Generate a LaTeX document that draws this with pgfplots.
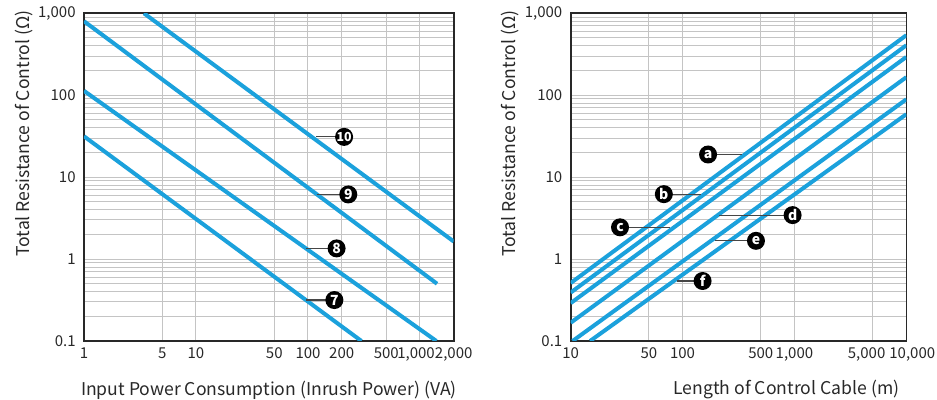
\documentclass[border=0pt]{standalone}
\usepackage{fontspec}
\setmainfont{Noto Sans CJK KR}
\usepackage{pgfplots}
\pgfplotsset{compat=1.18}
\definecolor{lineblue}{RGB}{27,161,220}
\definecolor{gridgray}{RGB}{196,196,196}
\definecolor{txt}{RGB}{40,40,40}
\definecolor{lead}{RGB}{70,70,70}
\tikzset{
  lab/.style={circle, fill=black, text=white, inner sep=0pt, minimum size=9pt, font=\bfseries\fontsize{7}{7}\selectfont},
  ldr/.style={lead, line width=0.6pt},
  bl/.style={lineblue, line width=2pt, no marks},
}
\pgfplotsset{
  every axis/.append style={
    scale only axis,
    height=163.85pt,
    grid=both,
    major grid style={gridgray, line width=0.5pt},
    minor grid style={gridgray, line width=0.5pt},
    major tick length=0pt, minor tick length=0pt,
    axis line style={txt, line width=0.8pt},
    /pgf/number format/assume math mode=true,
    tick label style={font=\fontsize{7.5}{9}\selectfont, text=txt, inner sep=0pt},
    xticklabel style={yshift=-3pt},
    yticklabel style={xshift=-4pt},
    label style={font=\fontsize{8.8}{10}\selectfont, text=txt},
  },
}
\begin{document}
\begin{tikzpicture}
\useasboundingbox (-42pt,-29.5pt) rectangle (426.5pt,170.5pt);
\begin{axis}[
  xmode=log, ymode=log,
  at={(0pt,0pt)}, anchor=south west,
  width=184.85pt,
  xmin=1, xmax=2000,
  ymin=0.1, ymax=1000,
  ytick={0.1,1,10,100,1000},
  yticklabels={0.1,1,10,100,{1,000}},
  xtick={1,5,10,50,100,200,500,1000,2000},
  xticklabels={1,5,10,50,100,200,500,{\makebox[0pt]{\hspace*{-4pt}1,000}},{2,000}},
  xlabel={Input Power Consumption (Inrush Power) (VA)},
  ylabel={Total Resistance of Control (Ω)},
  xlabel style={at={(axis description cs:0.5,-0.1495)}, anchor=center},
  ylabel style={at={(axis description cs:-0.1623,0.633)}, anchor=center},
]
\addplot[bl] coordinates {(3.43,1000) (2000,1.64)};
\addplot[bl] coordinates {(1,800) (1420,0.5)};
\addplot[bl] coordinates {(1,113) (1400,0.1)};
\addplot[bl] coordinates {(1,31.5) (300,0.1)};
\draw[ldr] (axis cs:118,31) -- (axis cs:210,31);
\node[lab, font=\bfseries\fontsize{6.2}{6.2}\selectfont] at (axis cs:210,31) {10};
\draw[ldr] (axis cs:120,6.15) -- (axis cs:229,6.15);
\node[lab] at (axis cs:229,6.15) {9};
\draw[ldr] (axis cs:96,1.35) -- (axis cs:180,1.35);
\node[lab] at (axis cs:180,1.35) {8};
\draw[ldr] (axis cs:96,0.316) -- (axis cs:172,0.316);
\node[lab] at (axis cs:172,0.316) {7};
\end{axis}
\begin{axis}[
  xmode=log, ymode=log,
  at={(243.35pt,0pt)}, anchor=south west,
  width=167.8pt,
  xmin=10, xmax=10000,
  ymin=0.1, ymax=1000,
  ytick={0.1,1,10,100,1000},
  yticklabels={0.1,1,10,100,{1,000}},
  xtick={10,50,100,500,1000,5000,10000},
  xticklabels={10,50,100,500,{1,000},{\makebox[0pt]{\hspace*{-6pt}5,000}},{\makebox[0pt]{\hspace*{6pt}10,000}}},
  xlabel={Length of Control Cable (m)},
  ylabel={Total Resistance of Control (Ω)},
  xlabel style={at={(axis description cs:1,-0.1495)}, anchor=east},
  ylabel style={at={(axis description cs:-0.181,0.633)}, anchor=center},
]
\addplot[bl] coordinates {(10,0.51) (10000,540)};
\addplot[bl] coordinates {(10,0.39) (10000,407)};
\addplot[bl] coordinates {(10,0.29) (10000,293)};
\addplot[bl] coordinates {(10,0.167) (10000,166)};
\addplot[bl] coordinates {(10.4,0.1) (10000,89)};
\addplot[bl] coordinates {(14.9,0.1) (10000,58.6)};
\draw[ldr] (axis cs:169,18.9) -- (axis cs:337,18.9);
\node[lab] at (axis cs:169,18.9) {a};
\draw[ldr] (axis cs:68,6.2) -- (axis cs:146,6.2);
\node[lab] at (axis cs:68,6.2) {b};
\draw[ldr] (axis cs:27.6,2.44) -- (axis cs:77,2.44);
\node[lab] at (axis cs:27.6,2.44) {c};
\draw[ldr] (axis cs:213,3.44) -- (axis cs:963,3.44);
\node[lab] at (axis cs:963,3.44) {d};
\draw[ldr] (axis cs:195,1.67) -- (axis cs:453,1.67);
\node[lab] at (axis cs:453,1.67) {e};
\draw[ldr] (axis cs:88.6,0.54) -- (axis cs:151,0.54);
\node[lab] at (axis cs:151,0.54) {f};
\end{axis}
\end{tikzpicture}
\end{document}
